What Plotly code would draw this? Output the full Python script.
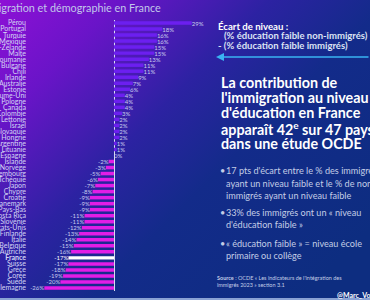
import base64
import plotly.graph_objects as go

# ---- data ----
countries = ["Pérou", "Portugal", "Turquie", "Mexique", "Nouvelle-Zélande", "Malte", "Roumanie",
             "Bulgarie", "Chili", "Irlande", "Australie", "Estonie", "Royaume-Uni", "Pologne",
             "Canada", "Colombie", "Lettonie", "Israël", "Slovaquie", "Hongrie", "Argentine",
             "Lituanie", "Espagne", "Islande", "Norvège", "Luxembourg", "Tchéquie", "Japon",
             "Chypre", "Croatie", "Danemark", "Pays-Bas", "Costa Rica", "Slovénie", "États-Unis",
             "Finlande", "Italie", "Belgique", "Autriche", "France", "Suisse", "Grèce", "Corée",
             "Suède", "Allemagne"]
gap_values = [29, 18, 16, 16, 15, 15, 13, 11, 11, 9, 7, 6, 4, 4, 4, 3, 2, 2, 2, 2, 1, 1, 0,
              -2, -3, -5, -6, -7, -8, -9, -9, -9, -11, -11, -12, -13, -14, -15, -16, -17, -17,
              -18, -19, -20, -26]
highlight = "France"

W, H = 370, 300
POS, NEG, HIL = "#6c1ff0", "#e21de6", "#ffffff"

colors = [HIL if c == highlight else (POS if v >= 0 else NEG) for c, v in zip(countries, gap_values)]
labels = [f"{v}%" for v in gap_values]
lab_colors = ["#ffffff" if c == highlight else "#c9cdee" for c in countries]
ticktext = [f"<b>{c}</b>" if c == highlight else c for c in countries]

def px(x, y):
    return x / W, 1 - y / H

# plot area in pixels
left_px, right_px, zero_px, scale = 27, 212, 114, 2.68
top_px, bot_px = 20, 291
xr = [(left_px - zero_px) / scale, (right_px - zero_px) / scale]

fig = go.Figure(go.Bar(
    y=countries, x=gap_values, orientation="h",
    marker=dict(color=colors, line=dict(width=0)),
    text=labels, textposition="outside", cliponaxis=False, constraintext="none",
    textfont=dict(family="Lato", size=6, color=lab_colors),
    hoverinfo="skip",
))

svg = (f"<svg xmlns='http://www.w3.org/2000/svg' width='{W}' height='{H}'>"
       "<defs><linearGradient id='g' x1='0' y1='0' x2='300' y2='300' gradientUnits='userSpaceOnUse'>"
       "<stop offset='0' stop-color='#8e10d6'/><stop offset='0.2' stop-color='#6a14c8'/>"
       "<stop offset='0.45' stop-color='#2c22a2'/><stop offset='0.65' stop-color='#132b8a'/>"
       "<stop offset='1' stop-color='#0d2d80'/></linearGradient></defs>"
       f"<rect width='{W}' height='{H}' fill='url(#g)'/></svg>")
uri = "data:image/svg+xml;base64," + base64.b64encode(svg.encode()).decode()

ann = []
def txt(x, y, s, size, color="#ffffff", bold=False, xanchor="left", family="Lato"):
    xx, yy = px(x, y)
    ann.append(dict(x=xx, y=yy, xref="paper", yref="paper", text=(f"<b>{s}</b>" if bold else s),
                    showarrow=False, xanchor=xanchor, yanchor="middle", align="left",
                    font=dict(family=family, size=size, color=color)))

# title (left part clipped by the page edge)
txt(163, 8, "Immigration et démographie en France", 10.8, "#c2c6ea", xanchor="right")

# legend-like explanation
txt(216, 26, "Écart de niveau :", 9.6, "#ffffff", bold=True)
txt(222, 35.5, "(% éducation faible non-immigrés)", 9.5, "#dde3f3", bold=True)
txt(216, 45, "- (% éducation faible immigrés)", 9.5, "#dde3f3", bold=True)

# arrow
ax0, ay0 = px(216, 57)
ann.append(dict(x=ax0, y=ay0, xref="paper", yref="paper", text="", showarrow=True,
                ax=160, ay=0, arrowhead=2, arrowsize=1, arrowwidth=1.6, arrowcolor="#3ab4f2"))

# heading
heading = ["La contribution de", "l'immigration au niveau", "d'éducation en France",
           "apparaît 42<sup>e</sup> sur 47 pays", "dans une étude OCDE"]
for i, line in enumerate(heading):
    txt(219, 82 + i * 15.4, line, 14.3, "#ffffff", bold=True)

# bullets
bcol = "#c3cde6"
bullets = [
    (171, ["17 pts d'écart entre le % des immigrés", "ayant un niveau faible et le % de non-",
           "immigrés ayant un niveau faible"]),
    (212.5, ["33% des immigrés ont un « niveau", "d'éducation faible »"]),
    (243, ["« éducation faible » = niveau école", "primaire ou collège"]),
]
for y0, lines in bullets:
    txt(218, y0, "•", 9.1, bcol)
    for j, l in enumerate(lines):
        txt(224, y0 + j * 12.3, l, 9.1, bcol)

txt(215, 277.5, "<b>Source</b> : OCDE « Les indicateurs de l'intégration des", 5.5, "#c3cde6")
txt(215, 285, "immigrés 2023 » section 3.1", 5.5, "#c3cde6")
txt(335, 295, "@Marc_Vo", 7, "#ffffff", bold=True)

fig.update_layout(
    width=W, height=H, margin=dict(l=0, r=0, t=0, b=0, autoexpand=False),
    paper_bgcolor="#14287e", plot_bgcolor="rgba(0,0,0,0)",
    showlegend=False, bargap=0.42,
    xaxis=dict(domain=[left_px / W, right_px / W], range=xr, showgrid=False, showticklabels=False,
               zeroline=True, zerolinecolor="#d8dcf0", zerolinewidth=1.2, fixedrange=True,
               automargin=False),
    yaxis=dict(domain=[1 - bot_px / H, 1 - top_px / H], autorange="reversed",
               tickmode="array", tickvals=countries, ticktext=ticktext,
               tickfont=dict(family="Lato", size=7, color="#d4d6f4"),
               ticks="", ticklen=0, showgrid=False, showline=False, zeroline=False,
               fixedrange=True, automargin=False),
    images=[dict(source=uri, xref="paper", yref="paper", x=0, y=1, sizex=1, sizey=1,
                 xanchor="left", yanchor="top", sizing="stretch", layer="below")],
    annotations=ann,
    shapes=[dict(type="rect", xref="paper", yref="paper", x0=0, x1=1, y0=0, y1=2 / H,
                 fillcolor="#8aa2d4", line=dict(width=0))],
    font=dict(family="Lato"),
)

fig.write_html("out.html")
